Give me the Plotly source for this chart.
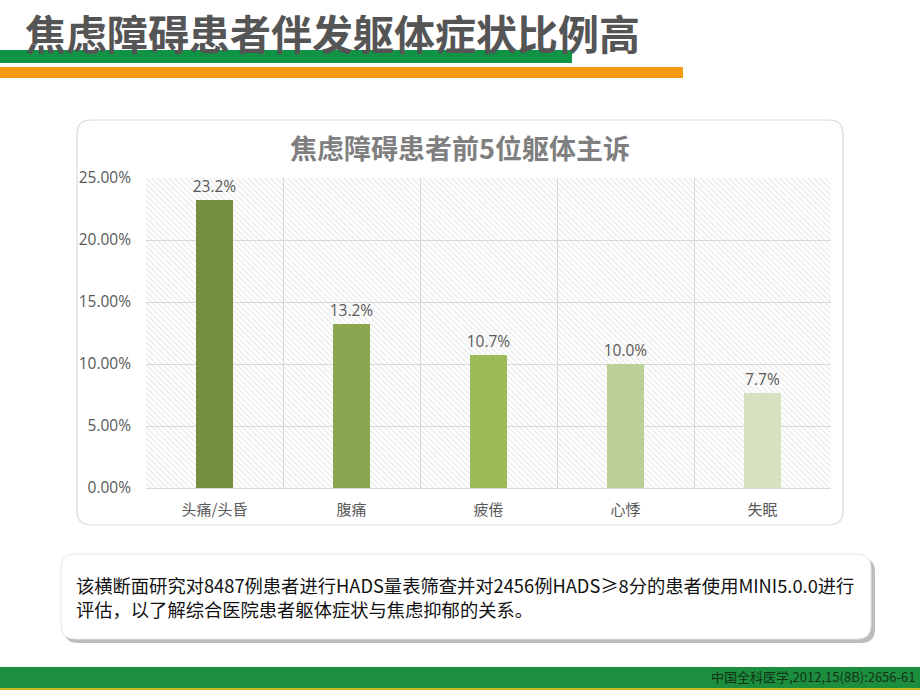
import plotly.graph_objects as go

W, H = 920, 690

categories = ["头痛/头昏", "腹痛", "疲倦", "心悸", "失眠"]
values = [23.2, 13.2, 10.7, 10.0, 7.7]
value_labels = ["23.2%", "13.2%", "10.7%", "10.0%", "7.7%"]
bar_colors = ["#738E3E", "#8BA651", "#9BBB59", "#BBD095", "#D5E1BF"]
y_tickvals = [0, 5, 10, 15, 20, 25]
y_ticktext = ["0.00%", "5.00%", "10.00%", "15.00%", "20.00%", "25.00%"]
y_max = 25

main_title = "焦虑障碍患者伴发躯体症状比例高"
chart_title = "焦虑障碍患者前5位躯体主诉"
note_lines = ["该横断面研究对8487例患者进行HADS量表筛查并对2456例HADS≥8分的患者使用MINI5.0.0进行",
              "评估，以了解综合医院患者躯体症状与焦虑抑郁的关系。"]
citation = "中国全科医学,2012,15(8B):2656-61"

FONT = "Noto Sans CJK SC"
NUMFONT = "Open Sans, Noto Sans CJK SC"


def px(x):
    return x / W


def py(y):
    return 1 - y / H


def rrect(x0, y0, x1, y1, r):
    def P(x, y):
        return f"{px(x):.5f},{py(y):.5f}"
    return ("M " + P(x0 + r, y0) + " L " + P(x1 - r, y0) + " Q " + P(x1, y0) + " " + P(x1, y0 + r) +
            " L " + P(x1, y1 - r) + " Q " + P(x1, y1) + " " + P(x1 - r, y1) +
            " L " + P(x0 + r, y1) + " Q " + P(x0, y1) + " " + P(x0, y1 - r) +
            " L " + P(x0, y0 + r) + " Q " + P(x0, y0) + " " + P(x0 + r, y0) + " Z")


fig = go.Figure()

# hatched plot background
fig.add_trace(go.Bar(
    x=categories, y=[y_max] * len(categories), width=1,
    marker=dict(color="rgba(255,255,255,0)", line=dict(width=0),
                pattern=dict(shape="\\", fgcolor="#d2d2d2", bgcolor="rgba(255,255,255,0)",
                             size=4, solidity=0.3)),
    hoverinfo="skip", showlegend=False))

fig.add_trace(go.Bar(
    x=categories, y=values, width=0.27,
    marker=dict(color=bar_colors, line=dict(width=0)),
    text=value_labels, textposition="outside", cliponaxis=False, constraintext="none",
    textfont=dict(family=NUMFONT, size=15.5, color="#595959"),
    showlegend=False))

shapes = [
    dict(type="rect", xref="paper", yref="paper", x0=0, x1=px(572), y0=py(63), y1=py(50),
         fillcolor="#0E9444", line=dict(width=0), layer="below"),
    dict(type="rect", xref="paper", yref="paper", x0=0, x1=px(683), y0=py(78), y1=py(67),
         fillcolor="#F39A12", line=dict(width=0), layer="below"),
    dict(type="path", xref="paper", yref="paper", path=rrect(77, 120, 843, 525, 14),
         fillcolor="white", line=dict(color="#d9d9d9", width=1.2), layer="below"),
    dict(type="path", xref="paper", yref="paper", path=rrect(64, 558, 875, 643, 14),
         fillcolor="#bdbdbd", line=dict(width=0), layer="below"),
    dict(type="path", xref="paper", yref="paper", path=rrect(61, 554, 871, 639, 14),
         fillcolor="white", line=dict(color="#e6e6e6", width=1), layer="below"),
    dict(type="rect", xref="paper", yref="paper", x0=0, x1=1, y0=py(688), y1=py(667),
         fillcolor="#1C8E3D", line=dict(width=0), layer="below"),
    dict(type="rect", xref="paper", yref="paper", x0=0, x1=1, y0=0, y1=py(688),
         fillcolor="#C9B81A", line=dict(width=0), layer="below"),
]

annotations = [
    dict(text="<b>" + main_title + "</b>", x=px(23), y=py(32), xref="paper", yref="paper",
         xanchor="left", yanchor="middle", showarrow=False,
         font=dict(family=FONT, size=41, color="#555555")),
    dict(text="<b>" + chart_title + "</b>", x=px(460), y=py(147), xref="paper", yref="paper",
         xanchor="center", yanchor="middle", showarrow=False,
         font=dict(family=FONT, size=27, color="#7f7f7f")),
    dict(text=note_lines[0], x=px(74), y=py(585), xref="paper", yref="paper",
         xanchor="left", yanchor="middle", showarrow=False,
         font=dict(family=FONT, size=18.3, color="#111111")),
    dict(text=note_lines[1], x=px(74), y=py(609), xref="paper", yref="paper",
         xanchor="left", yanchor="middle", showarrow=False,
         font=dict(family=FONT, size=18.3, color="#111111")),
    dict(text=citation, x=px(917), y=py(676), xref="paper", yref="paper",
         xanchor="right", yanchor="middle", showarrow=False,
         font=dict(family=FONT, size=13, color="#123318")),
]

fig.update_layout(
    width=W, height=H, margin=dict(l=0, r=0, t=0, b=0, autoexpand=False),
    paper_bgcolor="white", plot_bgcolor="rgba(0,0,0,0)",
    barmode="overlay", bargap=0,
    shapes=shapes, annotations=annotations,
    font=dict(family=FONT),
    xaxis=dict(domain=[px(146), px(831)], range=[-0.5, 4.5], tickson="boundaries",
               showgrid=True, gridcolor="#d9d9d9", gridwidth=1,
               showline=True, linecolor="#d9d9d9", ticks="", ticklen=0,
               ticklabelstandoff=8,
               tickfont=dict(family=FONT, size=15, color="#595959"), fixedrange=True),
    yaxis=dict(domain=[py(488), py(178)], range=[0, y_max], tickvals=y_tickvals, ticktext=y_ticktext,
               showgrid=True, gridcolor="#d9d9d9", gridwidth=1, zeroline=False,
               showline=False, ticks="", ticklabelstandoff=14,
               tickfont=dict(family=NUMFONT, size=15.5, color="#595959"), fixedrange=True),
)

fig.write_html("out.html")
